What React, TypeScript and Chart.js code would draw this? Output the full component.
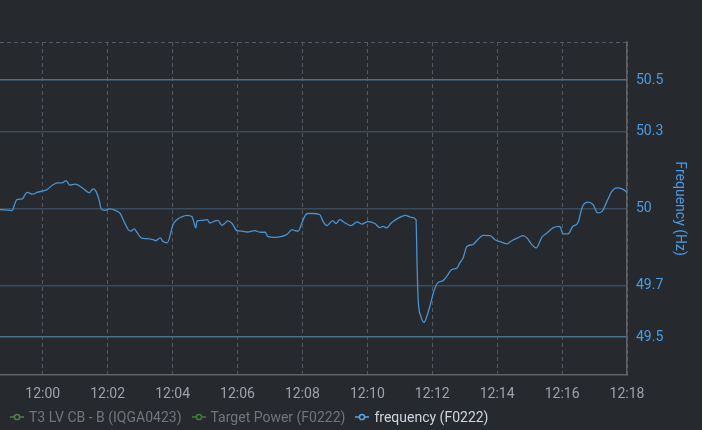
import React, { useEffect, useRef } from "react";
import { Chart, registerables } from "chart.js";

Chart.register(...registerables);

const TIMES = [
  "11:58:41", "11:59:00", "11:59:03", "11:59:09", "11:59:12", "11:59:22", "11:59:31", "11:59:42", "11:59:49",
  "12:00:01", "12:00:08", "12:00:19", "12:00:28", "12:00:36", "12:00:43", "12:00:50", "12:01:00", "12:01:09",
  "12:01:20", "12:01:26", "12:01:33", "12:01:38", "12:01:44", "12:01:48", "12:01:55", "12:02:04", "12:02:14",
  "12:02:23", "12:02:30", "12:02:38", "12:02:43", "12:02:49", "12:02:54", "12:03:02", "12:03:13", "12:03:24",
  "12:03:29", "12:03:37", "12:03:42", "12:03:50", "12:04:01", "12:04:08", "12:04:17", "12:04:27", "12:04:36",
  "12:04:38", "12:04:43", "12:04:45", "12:04:54", "12:05:04", "12:05:09", "12:05:18", "12:05:24", "12:05:31",
  "12:05:37", "12:05:42", "12:05:50", "12:05:59", "12:06:08", "12:06:18", "12:06:32", "12:06:42", "12:06:51",
  "12:06:56", "12:07:09", "12:07:22", "12:07:31", "12:07:41", "12:07:46", "12:07:52", "12:07:59", "12:08:05",
  "12:08:10", "12:08:19", "12:08:32", "12:08:38", "12:08:45", "12:08:56", "12:09:02", "12:09:09", "12:09:19",
  "12:09:30", "12:09:41", "12:09:50", "12:10:01", "12:10:14", "12:10:23", "12:10:29", "12:10:36", "12:10:44",
  "12:10:55", "12:11:10", "12:11:22", "12:11:30", "12:11:32", "12:11:34", "12:11:39", "12:11:45", "12:11:50",
  "12:11:56", "12:12:03", "12:12:10", "12:12:20", "12:12:27", "12:12:36", "12:12:46", "12:12:51", "12:12:57",
  "12:13:04", "12:13:15", "12:13:24", "12:13:34", "12:13:47", "12:13:56", "12:14:09", "12:14:18", "12:14:27",
  "12:14:38", "12:14:48", "12:14:55", "12:15:04", "12:15:12", "12:15:23", "12:15:32", "12:15:43", "12:15:56",
  "12:16:01", "12:16:11", "12:16:20", "12:16:29", "12:16:38", "12:16:48", "12:16:57", "12:17:06", "12:17:14",
  "12:17:23", "12:17:32", "12:17:41", "12:17:51", "12:18:00",
];

const FREQUENCY = [
  49.996, 49.993, 49.992, 50.022, 50.035, 50.038, 50.063, 50.056, 50.063,
  50.069, 50.074, 50.093, 50.1, 50.1, 50.109, 50.091, 50.095, 50.087,
  50.069, 50.061, 50.077, 50.069, 50.035, 49.999, 49.993, 49.999, 49.993,
  49.981, 49.951, 49.918, 49.912, 49.921, 49.908, 49.886, 49.883, 49.879,
  49.875, 49.886, 49.873, 49.867, 49.938, 49.957, 49.968, 49.974, 49.968,
  49.957, 49.925, 49.951, 49.954, 49.957, 49.944, 49.951, 49.954, 49.935,
  49.944, 49.952, 49.942, 49.914, 49.912, 49.909, 49.914, 49.908, 49.908,
  49.892, 49.888, 49.892, 49.899, 49.918, 49.914, 49.912, 49.944, 49.973,
  49.981, 49.981, 49.977, 49.951, 49.934, 49.953, 49.942, 49.957, 49.944,
  49.934, 49.948, 49.94, 49.949, 49.942, 49.926, 49.931, 49.925, 49.944,
  49.96, 49.974, 49.966, 49.957, 49.775, 49.646, 49.581, 49.558, 49.581,
  49.623, 49.678, 49.711, 49.72, 49.737, 49.763, 49.769, 49.789, 49.808,
  49.853, 49.86, 49.879, 49.896, 49.895, 49.879, 49.869, 49.863, 49.875,
  49.886, 49.895, 49.886, 49.86, 49.847, 49.89, 49.905, 49.925, 49.931,
  49.903, 49.902, 49.931, 49.944, 50.009, 50.025, 50.016, 49.983, 49.989,
  50.028, 50.067, 50.081, 50.077, 50.063,
];

const X_TICKS = ["12:00", "12:02", "12:04", "12:06", "12:08", "12:10", "12:12", "12:14", "12:16", "12:18"];
const X_RANGE = ["11:58:41", "12:18:00"];
const Y_TICKS = [49.5, 49.7, 50, 50.3, 50.5];
const Y_RANGE = [49.352, 50.648];

const LEGEND_LABELS = ["T3 LV CB - B (IQGA0423)", "Target Power (F0222)", "frequency (F0222)"];
const LEGEND_COLORS = ["#5a7a50", "#3f7f3c", "#5aa5e6"];
const LEGEND_TEXT = ["#72767c", "#72767c", "#cdd5df"];

const BG = "#26292e";
const LINE = "#4b93cf";

const toSec = (s: string) => {
  const p = s.split(":").map(Number);
  return p[0] * 3600 + p[1] * 60 + (p[2] || 0);
};
const fmt = (v: number) => {
  const h = Math.floor(v / 3600);
  const m = Math.round((v - h * 3600) / 60);
  return `${String(h).padStart(2, "0")}:${String(m).padStart(2, "0")}`;
};

const topDashPlugin = {
  id: "topDash",
  beforeDatasetsDraw(chart: any) {
    const { ctx, chartArea } = chart;
    ctx.save();
    ctx.strokeStyle = "#55595f";
    ctx.lineWidth = 1;
    ctx.setLineDash([4, 3]);
    ctx.beginPath();
    ctx.moveTo(chartArea.left, Math.round(chartArea.top) + 0.5);
    ctx.lineTo(chartArea.right, Math.round(chartArea.top) + 0.5);
    ctx.stroke();
    ctx.restore();
  },
};

function LegendSymbol({ color }: { color: string }) {
  return (
    <svg width="14" height="8" style={{ marginRight: 5, flex: "none" }}>
      <line x1="0" y1="4" x2="14" y2="4" stroke={color} strokeWidth="1.5" />
      <circle cx="7" cy="4" r="2.6" fill={BG} stroke={color} strokeWidth="1.5" />
    </svg>
  );
}

export default function App() {
  const ref = useRef<HTMLCanvasElement | null>(null);

  useEffect(() => {
    if (!ref.current) return;
    const data = TIMES.map((t, i) => ({ x: toSec(t), y: FREQUENCY[i] }));
    const chart = new Chart(ref.current, {
      type: "line",
      data: {
        datasets: [
          {
            label: "frequency (F0222)",
            data,
            borderColor: LINE,
            borderWidth: 1.3,
            pointRadius: 0,
            fill: false,
            cubicInterpolationMode: "monotone",
          },
        ],
      },
      options: {
        animation: false,
        responsive: false,
        maintainAspectRatio: false,
        layout: { padding: { top: 42, left: 0, right: 0, bottom: 1 } },
        plugins: { legend: { display: false }, tooltip: { enabled: false } },
        scales: {
          x: {
            type: "linear",
            min: toSec(X_RANGE[0]),
            max: toSec(X_RANGE[1]),
            afterBuildTicks: (scale: any) => {
              scale.ticks = X_TICKS.map((t) => ({ value: toSec(t) }));
            },
            ticks: {
              color: "#9ea2a8",
              font: { family: "Roboto", size: 14 },
              padding: 11,
              maxRotation: 0,
              autoSkip: false,
              callback: (v: any) => fmt(Number(v)),
            },
            grid: { color: "#55595f", lineWidth: 1, drawTicks: false },
            border: { display: true, color: "#5f6368", width: 1.5, dash: [4, 3] },
          },
          y: {
            type: "linear",
            position: "right",
            min: Y_RANGE[0],
            max: Y_RANGE[1],
            afterBuildTicks: (scale: any) => {
              scale.ticks = Y_TICKS.map((v) => ({ value: v }));
            },
            afterFit: (scale: any) => {
              scale.width = 75;
            },
            ticks: {
              color: "#4a9de3",
              font: { family: "Roboto", size: 14 },
              padding: 9,
              callback: (v: any) => String(v),
            },
            grid: {
              drawTicks: false,
              lineWidth: 1.5,
              color: (ctx: any) => {
                const v = ctx.tick ? ctx.tick.value : 0;
                return Math.abs(Math.abs(v - 50) - 0.5) < 1e-6 ? "#46708f" : "#3a4c5e";
              },
            },
            border: { display: true, color: "#5f6368", width: 1.5 },
            title: {
              display: true,
              text: "Frequency (Hz)",
              color: "#4a9de3",
              font: { family: "Roboto", size: 14 },
              padding: { top: 14, bottom: 0 },
            },
          },
        },
      },
      plugins: [topDashPlugin],
    } as any);
    return () => chart.destroy();
  }, []);

  return (
    <div
      style={{
        position: "fixed",
        left: 0,
        top: 0,
        width: 702,
        height: 430,
        background: BG,
        overflow: "hidden",
      }}
    >
      <canvas ref={ref} width={702} height={415} style={{ display: "block", width: 702, height: 415 }} />
      <div
        style={{
          position: "absolute",
          left: 10,
          top: 409,
          display: "flex",
          alignItems: "center",
          fontFamily: "Roboto",
          fontSize: 14,
          lineHeight: "16px",
          whiteSpace: "nowrap",
        }}
      >
        {LEGEND_LABELS.map((l, i) => (
          <div key={l} style={{ display: "flex", alignItems: "center", marginRight: 10 }}>
            <LegendSymbol color={LEGEND_COLORS[i]} />
            <span style={{ color: LEGEND_TEXT[i] }}>{l}</span>
          </div>
        ))}
      </div>
    </div>
  );
}
